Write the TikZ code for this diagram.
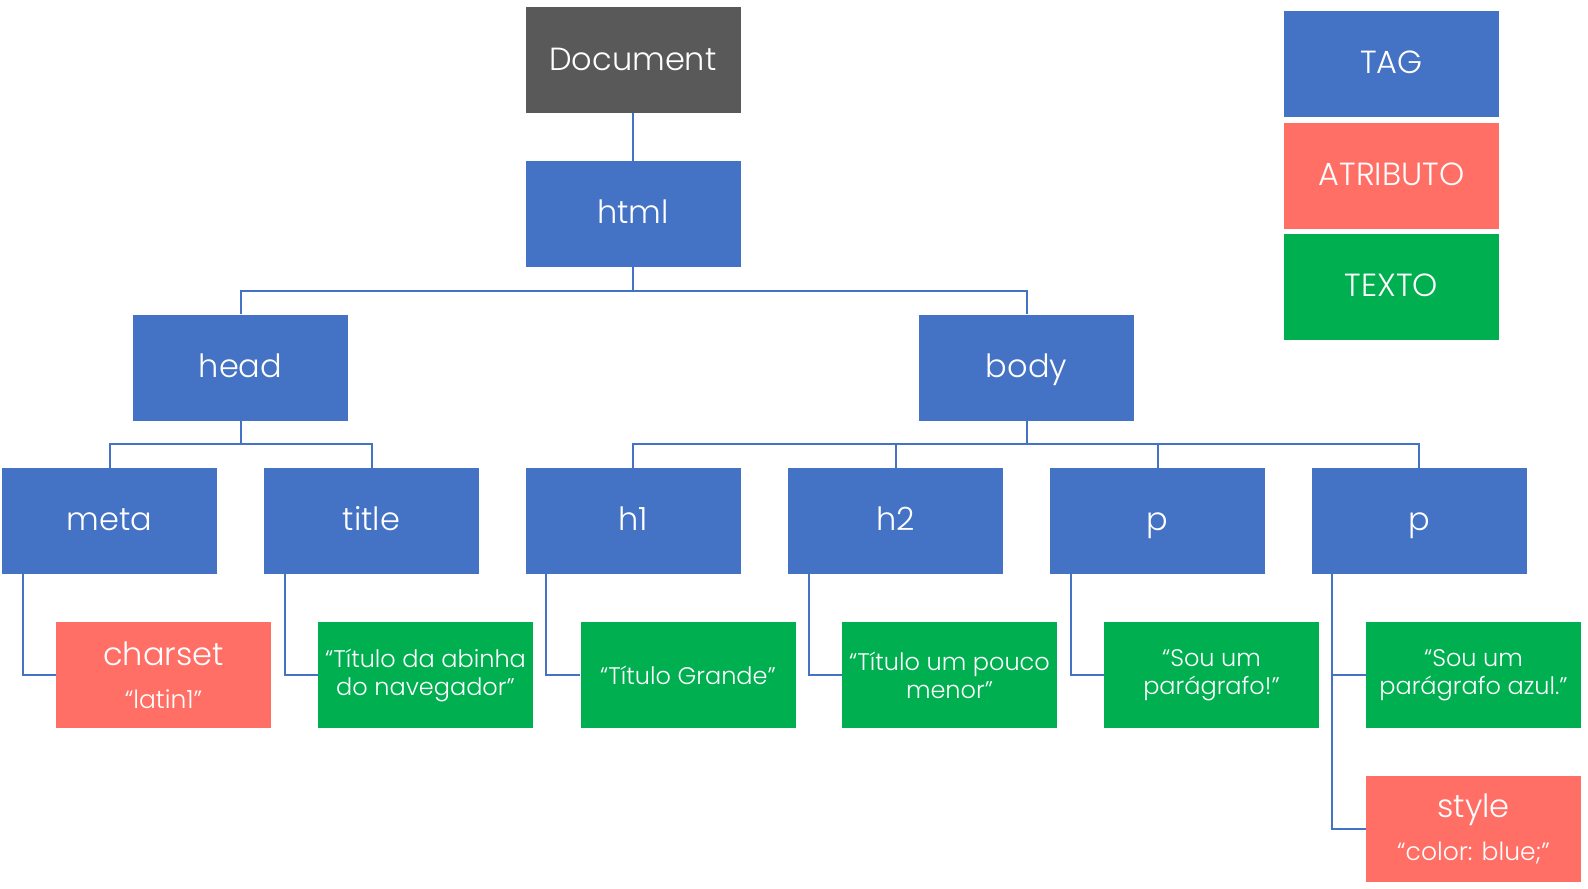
\documentclass[tikz,border=0pt]{standalone}
\usepackage{fontspec}
\setmainfont{Poppins Light}
\definecolor{tagblue}{HTML}{4472C4}
\definecolor{attred}{HTML}{FF6F66}
\definecolor{txtgreen}{HTML}{00AF50}
\definecolor{docgray}{HTML}{595959}
\newcommand{\bigt}{\fontsize{32}{37}\selectfont}
\tikzset{
  box/.style={minimum width=215pt, minimum height=106pt, inner sep=0pt, text=white, align=center},
  tagbox/.style={box, fill=tagblue, font=\bigt, text height=24pt, text depth=5pt},
  attbox/.style={box, fill=attred, font=\fontsize{25}{43}\selectfont},
  txtbox/.style={box, fill=txtgreen, font=\fontsize{24}{28}\selectfont},
  conn/.style={draw=tagblue, line width=2pt}
}
\begin{document}
\begin{tikzpicture}[x=1pt,y=-1pt]
\useasboundingbox (0,0) rectangle (1588,889);
% tree
\node[tagbox, fill=docgray, text depth=3pt] (doc) at (633,60) {Document};
\node[tagbox] (html) at (633,214) {html};
\node[tagbox] (head) at (240.5,367.5) {head};
\node[tagbox] (body) at (1026.5,367.5) {body};
\node[tagbox] (meta) at (109.5,521) {meta};
\node[tagbox] (title) at (371.5,521) {title};
\node[tagbox] (h1) at (633,521) {h1};
\node[tagbox] (h2) at (895.5,521) {h2};
\node[tagbox] (p1) at (1157.5,521) {p};
\node[tagbox] (p2) at (1419,521) {p};
\node[attbox] (charset) at (163.5,675) {{\bigt charset}\\{“latin1”}};
\node[txtbox] (tabinha) at (425.5,675) {“Título da abinha\\do navegador”};
\node[txtbox] (tgrande) at (688,675) {“Título Grande”};
\node[txtbox] (tmenor) at (949.5,675) {“Título um pouco\\menor”};
\node[txtbox] (spar) at (1211.5,675) {“Sou um\\parágrafo!”};
\node[txtbox] (sazul) at (1473.5,675) {“Sou um\\parágrafo azul.”};
\node[attbox] (style) at (1473.5,829) {{\bigt style}\\{“color: blue;”}};
% legend
\node[tagbox] (ltag) at (1391.5,64) {TAG};
\node[tagbox, fill=attred] (latt) at (1391.5,175.5) {ATRIBUTO};
\node[tagbox, fill=txtgreen] (ltxt) at (1391.5,287) {TEXTO};
% connectors
\draw[conn] (doc.south) -- (html.north);
\draw[conn] (html.south) -- ++(0,23.5) -| (head.north);
\draw[conn] (html.south) -- ++(0,23.5) -| (body.north);
\draw[conn] (head.south) -- ++(0,23.5) -| (meta.north);
\draw[conn] (head.south) -- ++(0,23.5) -| (title.north);
\draw[conn] (body.south) -- ++(0,23.5) -| (h1.north);
\draw[conn] (body.south) -- ++(0,23.5) -| (h2.north);
\draw[conn] (body.south) -- ++(0,23.5) -| (p1.north);
\draw[conn] (body.south) -- ++(0,23.5) -| (p2.north);
\draw[conn] ([xshift=21pt]meta.south west) |- (charset.west);
\draw[conn] ([xshift=21pt]title.south west) |- (tabinha.west);
\draw[conn] ([xshift=21pt]h1.south west) |- (tgrande.west);
\draw[conn] ([xshift=21pt]h2.south west) |- (tmenor.west);
\draw[conn] ([xshift=21pt]p1.south west) |- (spar.west);
\draw[conn] ([xshift=21pt]p2.south west) |- (sazul.west);
\draw[conn] ([xshift=21pt]p2.south west) |- (style.west);
\end{tikzpicture}
\end{document}
